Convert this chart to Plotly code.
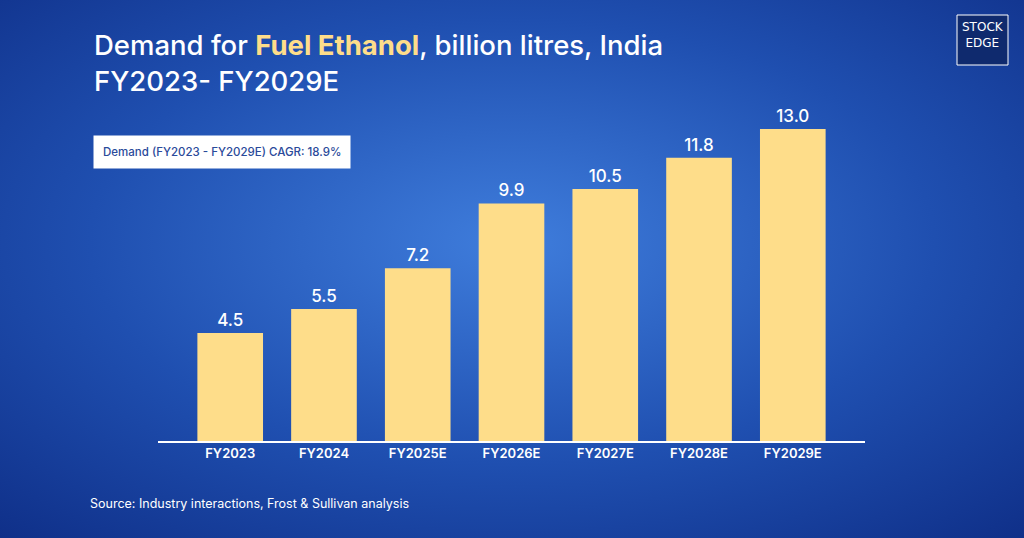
import base64
import plotly.graph_objects as go

years = ["FY2023", "FY2024", "FY2025E", "FY2026E", "FY2027E", "FY2028E", "FY2029E"]
demand = [4.5, 5.5, 7.2, 9.9, 10.5, 11.8, 13.0]
labels = ["4.5", "5.5", "7.2", "9.9", "10.5", "11.8", "13.0"]

# background: radial blue gradient as an svg data uri
svg = """<svg xmlns='http://www.w3.org/2000/svg' width='1024' height='538'>
<defs><radialGradient id='g' cx='0.5' cy='0.45' r='0.75'>
<stop offset='0' stop-color='#3f7ddc'/><stop offset='0.55' stop-color='#1f4fb0'/>
<stop offset='1' stop-color='#0f2f88'/></radialGradient></defs>
<rect width='1024' height='538' fill='url(#g)'/></svg>"""
bg = "data:image/svg+xml;base64," + base64.b64encode(svg.encode()).decode()

fig = go.Figure(go.Bar(
    x=years, y=demand, text=labels, textposition="outside",
    marker=dict(color="#fedd8a", line=dict(width=0)), width=0.7,
    textfont=dict(color="white", size=17, family="Inter", weight=500), cliponaxis=False,
))

fig.update_layout(
    width=1024, height=538,
    margin=dict(l=158, r=159, t=117, b=97),
    paper_bgcolor="#1f4fb0", plot_bgcolor="rgba(0,0,0,0)",
    font=dict(family="Inter", color="white"),
    showlegend=False,
    images=[dict(source=bg, xref="paper", yref="paper", x=-158/707, y=1+117/324,
                 sizex=1024/707, sizey=538/324, sizing="stretch", layer="below",
                 xanchor="left", yanchor="top")],
)
fig.update_xaxes(range=[-0.77, 6.77], showline=True, linecolor="white", linewidth=1.5,
                 ticks="", tickfont=dict(size=13, color="white", family="Inter", weight=600))
fig.update_yaxes(range=[0, 13.5], visible=False, showgrid=False)

fig.add_annotation(xref="paper", yref="paper", x=-66/707, y=1+(117-63)/324, xanchor="left", yanchor="middle",
                   showarrow=False, align="left",
                   text="Demand for <b><span style='color:#fedd8a'>Fuel Ethanol</span></b>, billion litres, India<br>FY2023- FY2029E",
                   font=dict(size=27.5, color="white", family="Inter", weight=500))
fig.add_annotation(xref="paper", yref="paper", x=-65/707, y=1-(152-117)/324, xanchor="left", yanchor="middle",
                   showarrow=False, bgcolor="white", borderpad=9,
                   text="Demand (FY2023 - FY2029E) CAGR: 18.9%",
                   font=dict(size=11.5, color="#2a4a9a", family="Inter", weight=500))
fig.add_annotation(xref="paper", yref="paper", x=-70/707, y=-(503-441)/324, xanchor="left", yanchor="middle",
                   showarrow=False, text="Source: Industry interactions, Frost &amp; Sullivan analysis",
                   font=dict(size=12.5, color="white", family="Inter"))
# logo
fig.add_shape(type="rect", xref="paper", yref="paper", x0=(957-158)/707, x1=(1008-158)/707,
              y0=1+(117-65)/324, y1=1+(117-15)/324, line=dict(color="white", width=1), fillcolor="#0f2a6e")
fig.add_annotation(xref="paper", yref="paper", x=(982.5-158)/707, y=1+(117-18)/324,
                   xanchor="center", yanchor="top", showarrow=False, align="center",
                   text="STOCK<br>EDGE", font=dict(size=12, color="white", family="DejaVu Sans"))

fig.write_html("out.html", config={"displayModeBar": False},
               post_script="document.body.style.margin='0';")
